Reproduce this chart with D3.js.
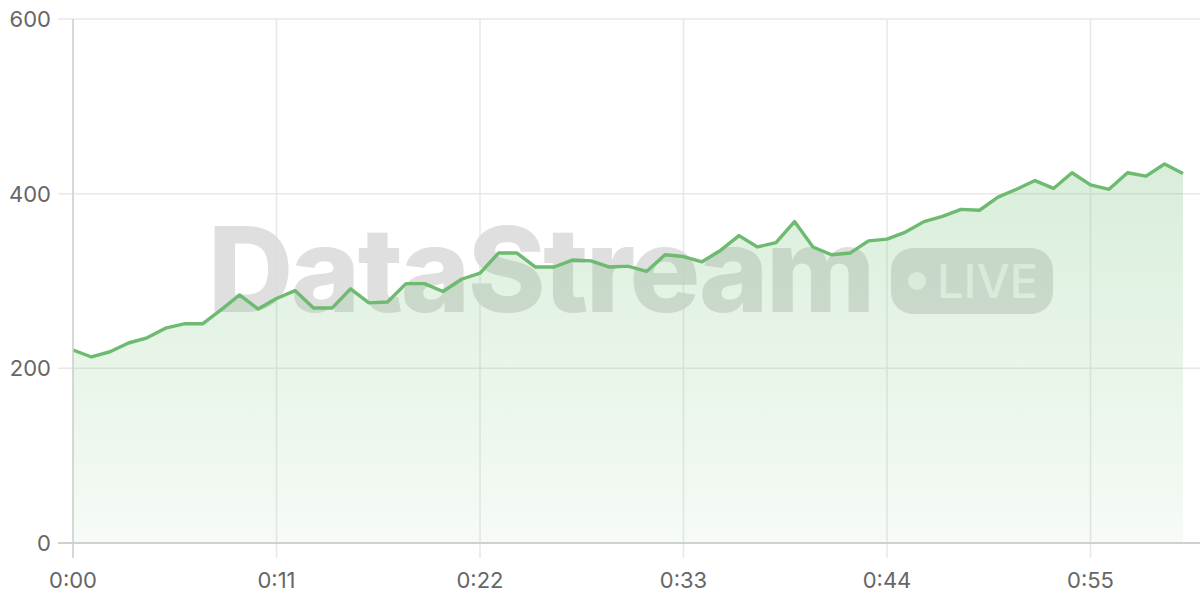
<!DOCTYPE html>
<html><head><meta charset="utf-8">
<script src="https://cdn.jsdelivr.net/npm/d3@7"></script>
<style>html,body{margin:0;padding:0;background:#fff;}svg{display:block;}</style>
</head><body>
<svg id="chart" width="1200" height="600"></svg>
<script>
const seconds = d3.range(0, 61);
const values = [221,213,219,229,235,246,251,251,267,284,268,280,289,269,269,291,275,276,297,297,288,302,309,332,332,316,316,324,323,316,317,311,330,328,322,335,352,339,344,368,339,330,332,346,348,356,368,374,382,381,396,405,415,406,424,410,405,424,420,434,423];
const xTicks = [0, 11, 22, 33, 44, 55];
const yTicks = [0, 200, 400, 600];
const data = seconds.map((s, i) => ({s, v: values[i]}));

const svg = d3.select('#chart');
const x = d3.scaleLinear().domain([0, 60]).range([73, 1183]);
const y = d3.scaleLinear().domain([0, 600]).range([543, 19]);
const font = 'Inter, "Liberation Sans", sans-serif';
const fmt = s => Math.floor(s / 60) + ':' + String(s % 60).padStart(2, '0');

const defs = svg.append('defs');
const grad = defs.append('linearGradient').attr('id', 'areaGrad').attr('x1', 0).attr('x2', 0).attr('y1', 0).attr('y2', 1);
grad.append('stop').attr('offset', '0%').attr('stop-color', '#66bb6a').attr('stop-opacity', 0.25);
grad.append('stop').attr('offset', '100%').attr('stop-color', '#66bb6a').attr('stop-opacity', 0.06);

// grid
svg.append('g').selectAll('line').data(yTicks).join('line')
  .attr('x1', 58).attr('x2', 1200).attr('y1', d => y(d)).attr('y2', d => y(d))
  .attr('stroke', '#e8e8e8').attr('stroke-width', 1.5);
svg.append('g').selectAll('line').data(xTicks).join('line')
  .attr('x1', d => x(d)).attr('x2', d => x(d)).attr('y1', 19).attr('y2', 558)
  .attr('stroke', '#e8e8e8').attr('stroke-width', 1.5);

// watermark
const wm = svg.append('g').attr('opacity', 0.9);
wm.append('text').attr('x', 208).attr('y', 312).text('DataStream')
  .attr('font-family', font).attr('font-weight', 800).attr('font-size', 118)
  .attr('letter-spacing', -2.5).attr('fill', '#dcdcdc');
wm.append('rect').attr('x', 891).attr('y', 248).attr('width', 162).attr('height', 66).attr('rx', 22)
  .attr('fill', '#dcdcdc');
wm.append('circle').attr('cx', 917).attr('cy', 281).attr('r', 9).attr('fill', '#f4f4f4');
wm.append('text').attr('x', 937).attr('y', 298).text('LIVE')
  .attr('font-family', font).attr('font-weight', 500).attr('font-size', 47).attr('fill', '#f4f4f4');

// area & line
svg.append('path').datum(data)
  .attr('d', d3.area().x(d => x(d.s)).y0(y(0)).y1(d => y(d.v)))
  .attr('fill', 'url(#areaGrad)');
svg.append('path').datum(data)
  .attr('d', d3.line().x(d => x(d.s)).y(d => y(d.v)))
  .attr('fill', 'none').attr('stroke', '#6dba70').attr('stroke-width', 3.4).attr('stroke-linejoin', 'round');

// axes lines
svg.append('line').attr('x1', x(0)).attr('x2', x(0)).attr('y1', 19).attr('y2', 558)
  .attr('stroke', '#d0d0d0').attr('stroke-width', 1.5);
svg.append('line').attr('x1', 58).attr('x2', 1200).attr('y1', y(0)).attr('y2', y(0))
  .attr('stroke', '#d0d0d0').attr('stroke-width', 2);

// labels
svg.append('g').selectAll('text').data(yTicks).join('text')
  .attr('x', 51).attr('y', d => y(d)).attr('dy', '0.36em').attr('text-anchor', 'end')
  .attr('font-family', font).attr('font-size', 22).attr('fill', '#666').text(d => d);
svg.append('g').selectAll('text').data(xTicks).join('text')
  .attr('x', d => x(d)).attr('y', 588).attr('text-anchor', 'middle')
  .attr('font-family', font).attr('font-size', 22).attr('fill', '#666').text(d => fmt(d));
</script>
</body></html>
